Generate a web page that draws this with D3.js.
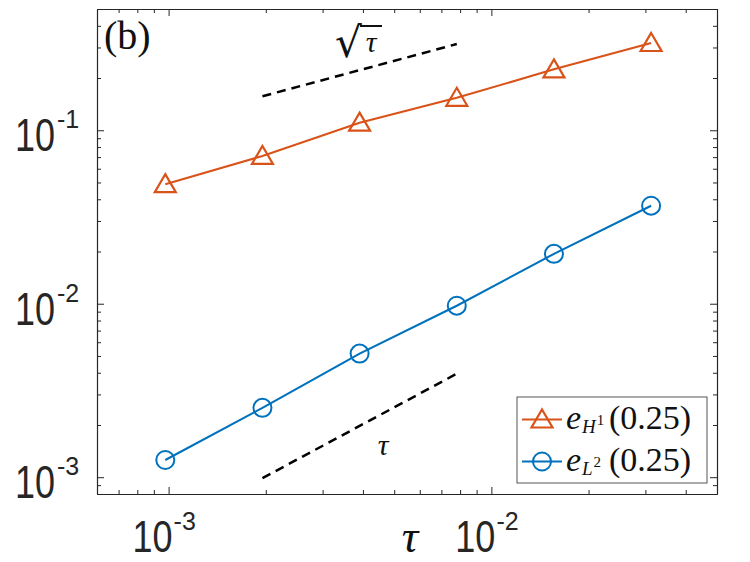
<!DOCTYPE html>
<html>
<head>
<meta charset="utf-8">
<script src="https://cdn.jsdelivr.net/npm/d3@7"></script>
<style>
  body { margin: 0; background: #fff; }
  svg { display: block; }
</style>
</head>
<body>
<div id="wrapper"></div>
<script>
// step sizes and errors
const tauValues = [0.0009765625, 0.001953125, 0.00390625, 0.0078125, 0.015625, 0.03125];
const errH1 = [0.0489, 0.0711, 0.1106, 0.1538, 0.2244, 0.3185];
const errL2 = [0.001256, 0.00251, 0.00516, 0.00974, 0.01938, 0.03673];

// reference slopes (dashed)
const refSqrtX = [0.001953125, 0.0078125];
const refSqrtY = [0.157, 0.314];
const refLinX = [0.001953125, 0.0078125];
const refLinY = [0.000987, 0.00395];

const xMajorTicks = [1e-3, 1e-2];
const yMajorTicks = [1e-3, 1e-2, 1e-1];
const xTickExp = ["-3", "-2"];
const yTickExp = ["-3", "-2", "-1"];
const legendLabels = [
  { sub: "H", sup: "1", arg: "(0.25)" },
  { sub: "L", sup: "2", arg: "(0.25)" },
];

function drawChart() {
  // Step 1: Dimensions
  const dimensions = {
    width: 750,
    height: 562,
    margin: { top: 9, bottom: 68, left: 97, right: 33 },
  };
  dimensions.boundedWidth =
    dimensions.width - dimensions.margin.left - dimensions.margin.right;
  dimensions.boundedHeight =
    dimensions.height - dimensions.margin.top - dimensions.margin.bottom;

  const orange = "#D95319";
  const blue = "#0072BD";
  const axisColor = "#262626";

  // Step 2: Canvas
  const wrapper = d3
    .select("#wrapper")
    .append("svg")
    .attr("width", dimensions.width)
    .attr("height", dimensions.height);

  const bounds = wrapper
    .append("g")
    .attr(
      "transform",
      `translate(${dimensions.margin.left},${dimensions.margin.top})`
    );

  // Step 3: Scales
  const xScale = d3
    .scaleLog()
    .domain([6e-4, 5e-2])
    .range([0, dimensions.boundedWidth]);

  const yScale = d3
    .scaleLog()
    .domain([8e-4, 0.5])
    .range([dimensions.boundedHeight, 0]);

  const xMinor = xScale.ticks().filter((t) => !xMajorTicks.some((m) => Math.abs(m - t) < 1e-12));
  const yMinor = yScale.ticks().filter((t) => !yMajorTicks.some((m) => Math.abs(m - t) < 1e-12));

  // Step 4: Axes (box with inward ticks)
  const addAxis = (gen, transform, values, size) => {
    const g = bounds
      .append("g")
      .attr("transform", transform)
      .call(gen.tickValues(values).tickSize(-size).tickSizeOuter(0).tickFormat(""));
    g.select(".domain").attr("stroke", axisColor).attr("stroke-width", 1.1);
    g.selectAll(".tick line").attr("stroke", axisColor).attr("stroke-width", 1);
    return g;
  };
  const W = dimensions.boundedWidth;
  const H = dimensions.boundedHeight;
  addAxis(d3.axisBottom(xScale), `translate(0,${H})`, xMinor, 4);
  addAxis(d3.axisBottom(xScale), `translate(0,${H})`, xMajorTicks, 7);
  addAxis(d3.axisTop(xScale), "translate(0,0)", xMinor, 4);
  addAxis(d3.axisTop(xScale), "translate(0,0)", xMajorTicks, 7);
  addAxis(d3.axisLeft(yScale), "translate(0,0)", yMinor, 4);
  addAxis(d3.axisLeft(yScale), "translate(0,0)", yMajorTicks, 7);
  addAxis(d3.axisRight(yScale), `translate(${W},0)`, yMinor, 4);
  addAxis(d3.axisRight(yScale), `translate(${W},0)`, yMajorTicks, 7);

  // tick labels 10^k
  const labels = wrapper.append("g").attr("fill", "#262626")
    .style("font-family", "'Liberation Sans', Arial, sans-serif");

  xMajorTicks.forEach((t, i) => {
    const x = dimensions.margin.left + xScale(t);
    const base = dimensions.margin.top + H + 58;
    labels.append("text")
      .attr("transform", `translate(${x + 4},${base}) scale(1,1.25)`)
      .attr("text-anchor", "end")
      .style("font-size", "36px")
      .text("10");
    labels.append("text")
      .attr("x", x + 5)
      .attr("y", base - 22)
      .style("font-size", "25px")
      .text(xTickExp[i]);
  });

  yMajorTicks.forEach((t, i) => {
    const y = dimensions.margin.top + yScale(t);
    labels.append("text")
      .attr("transform", `translate(55,${y + 21}) scale(1,1.3)`)
      .attr("text-anchor", "end")
      .style("font-size", "36px")
      .text("10");
    labels.append("text")
      .attr("x", 57)
      .attr("y", y - 2)
      .style("font-size", "25px")
      .text(yTickExp[i]);
  });

  // x label
  wrapper.append("text")
    .attr("x", 410)
    .attr("y", 552)
    .attr("text-anchor", "middle")
    .style("font-family", "'Liberation Serif', serif")
    .style("font-style", "italic")
    .style("font-size", "46px")
    .attr("fill", "#111")
    .text("τ");

  // Step 5: Draw reference lines
  const line = d3.line().x((d) => xScale(d[0])).y((d) => yScale(d[1]));

  [d3.zip(refSqrtX, refSqrtY), d3.zip(refLinX, refLinY)].forEach((ref) => {
    bounds.append("path")
      .datum(ref)
      .attr("d", line)
      .attr("fill", "none")
      .attr("stroke", "#000")
      .attr("stroke-width", 2.5)
      .attr("stroke-dasharray", "9,6");
  });

  // Step 6: Draw data series
  const h1Data = d3.zip(tauValues, errH1);
  const l2Data = d3.zip(tauValues, errL2);

  bounds.append("path")
    .datum(h1Data)
    .attr("d", line)
    .attr("fill", "none")
    .attr("stroke", orange)
    .attr("stroke-width", 2.1);

  bounds.append("path")
    .datum(l2Data)
    .attr("d", line)
    .attr("fill", "none")
    .attr("stroke", blue)
    .attr("stroke-width", 2.1);

  const triPath = "M0,-10L10.5,8L-10.5,8Z";

  bounds.selectAll(".tri")
    .data(h1Data)
    .join("path")
    .attr("class", "tri")
    .attr("d", triPath)
    .attr("transform", (d) => `translate(${xScale(d[0])},${yScale(d[1])})`)
    .attr("fill", "none")
    .attr("stroke", orange)
    .attr("stroke-width", 2.2);

  bounds.selectAll(".dot")
    .data(l2Data)
    .join("circle")
    .attr("class", "dot")
    .attr("cx", (d) => xScale(d[0]))
    .attr("cy", (d) => yScale(d[1]))
    .attr("r", 9)
    .attr("fill", "none")
    .attr("stroke", blue)
    .attr("stroke-width", 2);

  // Step 7: Annotations
  const serif = "'Liberation Serif', 'DejaVu Serif', serif";

  wrapper.append("text")
    .attr("x", 104)
    .attr("y", 49)
    .style("font-family", serif)
    .style("font-size", "40px")
    .attr("fill", "#111")
    .text("(b)");

  // sqrt(tau) label
  wrapper.append("text")
    .attr("x", 335)
    .attr("y", 57)
    .style("font-family", "'DejaVu Sans', sans-serif")
    .style("font-size", "42px")
    .attr("fill", "#111")
    .text("√");
  wrapper.append("line")
    .attr("x1", 360).attr("x2", 382)
    .attr("y1", 26).attr("y2", 26)
    .attr("stroke", "#111").attr("stroke-width", 2);
  wrapper.append("text")
    .attr("x", 371)
    .attr("y", 52)
    .attr("text-anchor", "middle")
    .style("font-family", serif)
    .style("font-style", "italic")
    .style("font-size", "30px")
    .attr("fill", "#111")
    .text("τ");

  wrapper.append("text")
    .attr("x", 383)
    .attr("y", 455)
    .attr("text-anchor", "middle")
    .style("font-family", serif)
    .style("font-style", "italic")
    .style("font-size", "30px")
    .attr("fill", "#111")
    .text("τ");

  // Step 8: Legend
  const legend = wrapper.append("g");
  legend.append("rect")
    .attr("x", 517).attr("y", 397)
    .attr("width", 190).attr("height", 86)
    .attr("fill", "#fff")
    .attr("stroke", "#555")
    .attr("stroke-width", 1);

  const rowY = [419.5, 461.5];
  const rowColors = [orange, blue];
  legendLabels.forEach((lab, i) => {
    const y = rowY[i];
    legend.append("line")
      .attr("x1", 522).attr("x2", 562)
      .attr("y1", y).attr("y2", y)
      .attr("stroke", rowColors[i]).attr("stroke-width", 2);
    if (i === 0) {
      legend.append("path")
        .attr("d", triPath)
        .attr("transform", `translate(542,${y})`)
        .attr("fill", "none").attr("stroke", orange).attr("stroke-width", 2.2);
    } else {
      legend.append("circle")
        .attr("cx", 542).attr("cy", y).attr("r", 9)
        .attr("fill", "none").attr("stroke", blue).attr("stroke-width", 2);
    }
    const base = y + 9.5;
    const t = legend.append("text")
      .style("font-family", serif)
      .attr("fill", "#111");
    t.append("tspan").attr("x", 566).attr("y", base)
      .style("font-style", "italic").style("font-size", "34px").text("e");
    t.append("tspan").attr("x", 582).attr("y", base + 4)
      .style("font-style", "italic").style("font-size", "19px").text(lab.sub);
    t.append("tspan").attr("dx", 1).attr("y", base - 4)
      .style("font-size", "15px").text(lab.sup);
    t.append("tspan").attr("x", 609).attr("y", base)
      .style("font-size", "34px").text(lab.arg);
  });
}

drawChart();
</script>
</body>
</html>
